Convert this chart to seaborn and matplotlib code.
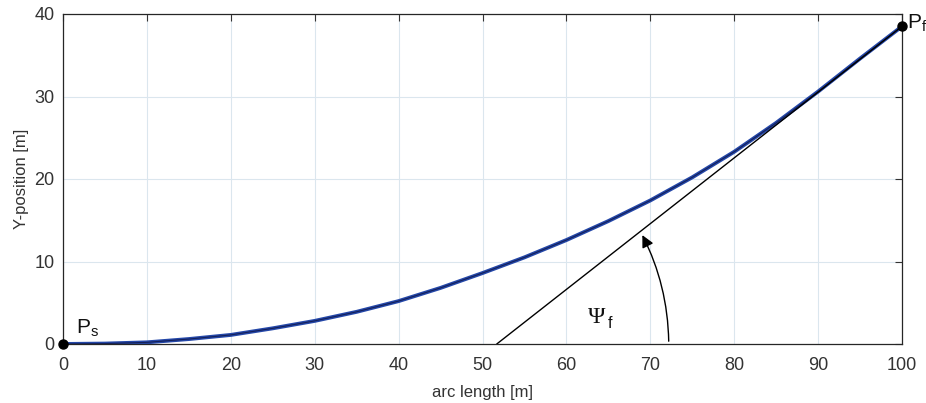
import matplotlib
matplotlib.use("Agg")
import matplotlib.pyplot as plt
import seaborn as sns
import pandas as pd

arc_length = [0, 5, 10, 15, 20, 25, 30, 35, 40, 45, 50, 55, 60, 65, 70, 75, 80, 85, 90, 95, 100]
y_position = [0, 0.05, 0.2, 0.6, 1.1, 1.9, 2.8, 3.9, 5.2, 6.8, 8.6, 10.5, 12.6, 14.9, 17.4, 20.2, 23.3, 26.8, 30.6, 34.6, 38.5]
tangent_x = [51.7, 100]
tangent_y = [0, 38.5]
x_ticks = [0, 10, 20, 30, 40, 50, 60, 70, 80, 90, 100]
y_ticks = [0, 10, 20, 30, 40]

sns.set_theme(style="whitegrid")
plt.rcParams['font.family'] = ['Liberation Sans', 'DejaVu Sans']

fig = plt.figure(figsize=(9.26, 4.03), dpi=100)
ax = fig.add_axes([63/926, 1-344/403, (902-63)/926, (344-14)/403])

df = pd.DataFrame({"s": arc_length, "y": y_position})
sns.lineplot(data=df, x="s", y="y", ax=ax, color="#2447a8", linewidth=2.8)
sns.lineplot(data=df, x="s", y="y", ax=ax, color="#14205a", linewidth=0.8)
ax.plot(tangent_x, tangent_y, color="black", linewidth=1.0)
ax.plot([arc_length[0], arc_length[-1]], [y_position[0], y_position[-1]], 'o',
        color='black', markersize=6.5, clip_on=False, zorder=5)

ax.annotate("", xy=(68.9, 13.5), xytext=(72.2, 0),
            arrowprops=dict(arrowstyle="-|>", color="black", lw=1.0,
                            connectionstyle="arc3,rad=0.12", mutation_scale=18))

ax.text(1.6, 1.3, r"P$_\mathregular{s}$", fontsize=15, color="#111111")
ax.text(100.6, 38.3, r"P$_\mathregular{f}$", fontsize=15, color="#111111", clip_on=False)
ax.text(62.6, 2.5, "Ψ", fontsize=17, family="Liberation Serif", color="#111111")
ax.text(64.9, 2.0, "f", fontsize=11.5, family="Liberation Sans", color="#111111")

ax.set_xlim(0, 100)
ax.set_ylim(0, 40)
ax.set_xticks(x_ticks)
ax.set_yticks(y_ticks)
ax.set_xlabel("arc length [m]", fontsize=12, color="#333333", labelpad=8)
ax.set_ylabel("Y-position [m]", fontsize=12, color="#333333", labelpad=4)
ax.tick_params(axis='both', labelsize=13, colors="#333333", direction='in',
               length=5, top=True, right=True, width=0.8)
ax.tick_params(axis='x', pad=9)
ax.tick_params(axis='y', pad=6)
ax.grid(True, color="#dbe6ee", linewidth=0.8)
for sp in ax.spines.values():
    sp.set_color("#262626")
    sp.set_linewidth(0.9)
ax.set_facecolor("white")

fig.savefig("out.png", dpi=100)
